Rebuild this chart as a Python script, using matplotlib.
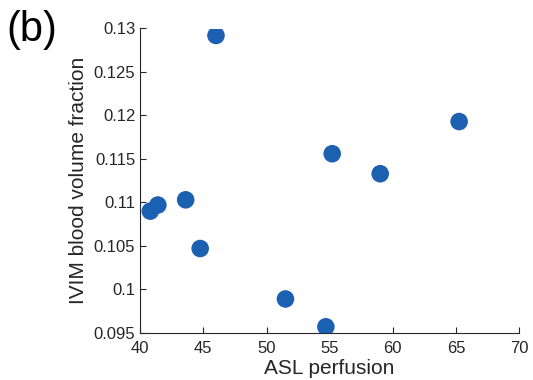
import matplotlib
matplotlib.use("Agg")
import matplotlib.pyplot as plt

plt.rcParams['font.family'] = ['Liberation Sans', 'DejaVu Sans']

# ASL perfusion vs IVIM blood volume fraction
asl = [46.0, 65.25, 55.2, 59.0, 43.6, 41.4, 40.8, 44.75, 51.5, 54.7]
ivim_f = [0.1292, 0.1193, 0.1156, 0.1133, 0.1103, 0.1097, 0.1090, 0.1047, 0.0989, 0.0957]

fig = plt.figure(figsize=(5.33, 3.8), dpi=100)
ax = fig.add_axes([0.263, 0.124, 0.711, 0.801])

ax.scatter(asl, ivim_f, s=160, color='#1c60b2', edgecolors='none', zorder=3)

ax.set_xlim(40, 70)
ax.set_ylim(0.095, 0.13)
ax.set_xticks([40, 45, 50, 55, 60, 65, 70])
ax.set_yticks([0.095, 0.1, 0.105, 0.11, 0.115, 0.12, 0.125, 0.13])
ax.set_yticklabels(['0.095', '0.1', '0.105', '0.11', '0.115', '0.12', '0.125', '0.13'])

for side in ['top', 'right']:
    ax.spines[side].set_visible(False)
for side in ['left', 'bottom']:
    ax.spines[side].set_color('#262626')
    ax.spines[side].set_linewidth(0.8)
ax.tick_params(direction='in', length=4, width=0.8, labelsize=12, colors='#262626')
ax.tick_params(axis='x', pad=6)

ax.set_xlabel('ASL perfusion', fontsize=15, labelpad=2, color='#262626')
ax.set_ylabel('IVIM blood volume fraction', fontsize=15, labelpad=4, color='#262626')

fig.text(0.012, 0.975, '(b)', fontsize=30, va='top', ha='left')

fig.savefig('out.png', dpi=100)
